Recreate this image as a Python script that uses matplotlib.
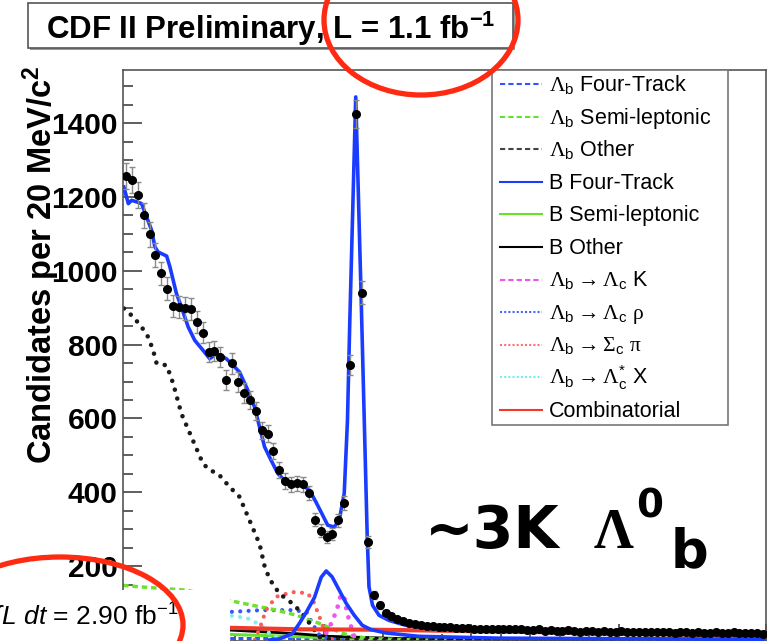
import numpy as np
import matplotlib
matplotlib.use("Agg")
import matplotlib.pyplot as plt
from matplotlib.lines import Line2D
from matplotlib.patches import Ellipse, Rectangle
from matplotlib.ticker import MultipleLocator, FuncFormatter

# ---------------------------------------------------------------- data
# Lambda_c pi invariant mass histogram: 20 MeV/c^2 bins starting at 4.82
bin_lo, bin_width = 4.82, 0.02
counts = [1256, 1245, 1205, 1151, 1099, 1042, 993, 952, 905, 902,
          898, 896, 862, 832, 780, 783, 767, 704, 749, 699,
          669, 650, 620, 568, 559, 512, 460, 431, 422, 424,
          422, 398, 326, 296, 279, 287, 324, 371, 746, 1426,
          941, 266, 121, 94, 72, 64, 56, 51, 45, 42,
          40, 39, 37, 36, 35, 34, 33, 33, 32, 31,
          31, 30, 30, 29, 30, 31, 30, 29, 28, 26,
          29, 25, 27, 24, 25, 26, 24, 23, 25, 24,
          23, 24, 22, 23, 25, 22, 23, 21, 22, 23,
          21, 22, 21, 20, 22, 21, 20, 21, 19, 20,
          21, 20, 19, 21, 20, 19, 18, 19, 17]

# total fit
fit_m = [4.823, 4.838, 4.849, 4.866, 4.883, 4.900, 4.917, 4.928, 4.939, 4.968,
         4.979, 5.001, 5.018, 5.041, 5.063, 5.091, 5.114, 5.137, 5.170, 5.187,
         5.215, 5.243, 5.266, 5.283, 5.300, 5.322, 5.345, 5.367, 5.401, 5.429,
         5.452, 5.474, 5.497, 5.514, 5.536, 5.553, 5.570, 5.581, 5.589, 5.609,
         5.627, 5.648, 5.654, 5.666, 5.688, 5.722, 5.778, 5.867, 5.981, 6.094,
         6.431, 6.769, 6.992]
fit_total = [1227, 1182, 1191, 1187, 1182, 1146, 1110, 1065, 1051, 1040,
             1011, 939, 902, 848, 812, 785, 762, 776, 762, 749,
             726, 677, 631, 577, 523, 487, 451, 433, 424, 419,
             406, 374, 338, 311, 306, 324, 397, 595, 866, 1471,
             940, 280, 144, 94, 67, 53, 40, 31, 28, 26,
             22, 16, 13]

# background components
lb_other_m = [4.823, 4.855, 4.883, 4.905, 4.922, 4.934, 4.968, 4.990, 5.018, 5.052,
              5.091, 5.114, 5.142, 5.181, 5.215, 5.249, 5.283, 5.300, 5.317, 5.350,
              5.394, 5.428, 5.462, 5.486, 5.519, 5.621, 6.992]
lb_other = [898, 875, 848, 821, 785, 749, 744, 695, 613, 550,
            478, 460, 451, 415, 388, 324, 260, 200, 165, 126,
            99, 72, 35, 8, 2, 0, 0]

lb_semi_m = [4.820, 4.877, 5.036, 5.181, 5.259, 5.340, 5.408, 5.452, 5.486, 5.524,
             5.564, 5.615, 5.682, 5.823, 6.992]
lb_semi = [148, 144, 135, 107, 94, 81, 67, 54, 45, 32, 18, 8, 3, 0, 0]

lb_4trk_m = [4.820, 5.600, 6.992]
lb_4trk = [4, 4, 3]

b_4trk_m = [5.317, 5.350, 5.394, 5.418, 5.442, 5.469, 5.492, 5.509, 5.529, 5.553,
            5.577, 5.604, 5.631, 5.661, 5.712, 5.823, 6.094, 6.992]
b_4trk = [0, 3, 17, 45, 76, 115, 170, 187, 171, 135, 99, 67, 40, 28, 19, 10, 5, 2]

b_semi_m = [4.820, 5.181, 5.384, 5.553, 5.756, 6.992]
b_semi = [18, 15, 10, 5, 2, 0]

b_other_m = [4.820, 5.181, 5.394, 5.519, 5.756, 6.094, 6.992]
b_other = [35, 27, 18, 10, 4, 1, 0]

lck_m = [5.486, 5.509, 5.529, 5.546, 5.559, 5.570, 5.580, 5.594, 5.604, 5.621]
lck = [2, 20, 49, 85, 124, 117, 72, 35, 9, 0]

lcrho_m = [4.820, 5.181, 5.293, 5.394, 5.442, 5.462, 5.486, 5.519, 5.587]
lcrho = [80, 76, 81, 81, 76, 45, 13, 2, 0]

scpi_m = [5.266, 5.283, 5.305, 5.339, 5.394, 5.418, 5.442, 5.462, 5.486, 5.502,
          5.519, 5.536]
scpi = [0, 30, 81, 117, 130, 128, 128, 112, 63, 27, 5, 0]

lcstar_m = [4.820, 5.181, 5.239, 5.283, 5.317, 5.350, 5.384]
lcstar = [80, 66, 60, 42, 18, 4, 0]

comb_m = [4.820, 5.181, 5.418, 5.654, 6.094, 6.431, 6.769, 6.992]
comb = [38, 33, 29, 28, 23, 19, 14, 11]

# ---------------------------------------------------------------- fonts
plt.rcParams.update({
    "font.family": ["Liberation Sans", "DejaVu Sans"],
    "mathtext.fontset": "custom",
    "mathtext.rm": "Liberation Sans",
    "mathtext.it": "Liberation Sans:italic",
    "mathtext.bf": "Liberation Sans:bold",
    "mathtext.sf": "Liberation Serif",
    "mathtext.fallback": "stixsans",
})

W, H = 776, 641
def fx(px):
    return px / W
def fy(py):
    return 1 - py / H

fig = plt.figure(figsize=(W / 100, H / 100), dpi=100)
ax = fig.add_axes([fx(123), 0, (766 - 123) / W, (641 - 70) / H])

# ---------------------------------------------------------------- plot
mass = bin_lo + bin_width * (np.arange(len(counts)) + 0.5)
y = np.array(counts, dtype=float)

dot = (0, (0.01, 2.0))
dash = (0, (1.6, 1.1))
ax.plot(lb_4trk_m, lb_4trk, color="#3355ff", lw=2.2, ls=dash, zorder=2)
ax.plot(b_semi_m, b_semi, color="#66e22a", lw=2.2, zorder=2)
ax.plot(b_other_m, b_other, color="black", lw=2.0, zorder=2)
ax.plot(comb_m, comb, color="#f03a2a", lw=3.0, zorder=3)
ax.plot(lcstar_m, lcstar, color="#7ff0f0", lw=3.0, ls=dot, dash_capstyle="round", zorder=2)
ax.plot(lcrho_m, lcrho, color="#3a55ff", lw=3.0, ls=dot, dash_capstyle="round", zorder=2)
ax.plot(lb_semi_m, lb_semi, color="#6fe030", lw=2.5, ls=dash, zorder=2)
ax.plot(scpi_m, scpi, color="#ff5a5a", lw=3.0, ls=dot, dash_capstyle="round", zorder=2)
ax.plot(lck_m, lck, color="#ee55ee", lw=3.4, ls=dot, dash_capstyle="round", zorder=2)
ax.plot(lb_other_m, lb_other, color="#1a1a1a", lw=3.3, ls=dot, dash_capstyle="round", zorder=2)
ax.plot(b_4trk_m, b_4trk, color="#1a3cff", lw=2.6, zorder=3)
ax.plot(fit_m, fit_total, color="#1a3cff", lw=2.6, zorder=4)

ax.errorbar(mass, y, yerr=np.sqrt(y), fmt="o", color="black", ms=5.5,
            ecolor="#8a8a8a", elinewidth=1.0, capsize=2.5, capthick=1.0, zorder=5)

ax.set_xlim(4.82, 7.0)
ax.set_ylim(-2.7, 1544)
ax.xaxis.set_major_locator(MultipleLocator(0.5))
ax.xaxis.set_minor_locator(MultipleLocator(0.1))
ax.yaxis.set_major_locator(MultipleLocator(200))
ax.yaxis.set_minor_locator(MultipleLocator(50))
ax.yaxis.set_major_formatter(FuncFormatter(lambda v, _: "" if v < 100 else f"{v:.0f}"))
ax.tick_params(which="both", direction="in", color="#333333", width=1.1,
               labelbottom=False, pad=4)
ax.tick_params(axis="y", which="major", length=14)
ax.tick_params(axis="y", which="minor", length=7)
ax.tick_params(axis="x", which="major", length=12)
ax.tick_params(axis="x", which="minor", length=5)
for lab in ax.get_yticklabels():
    lab.set_fontweight("bold")
    lab.set_fontsize(21.5)
for s in ax.spines.values():
    s.set_color("#555555")
    s.set_linewidth(1.2)

# axis title
fig.text(fx(41), fy(66), r"Candidates per 20 MeV/c$^{\mathbf{2}}$", rotation=90,
         ha="center", va="top", fontsize=23.5, fontweight="bold")

# ---------------------------------------------------------------- legend
fig.add_artist(Rectangle((fx(492), fy(425)), (728 - 492) / W, (425 - 70) / H,
                         transform=fig.transFigure, fc="white", ec="#777777",
                         lw=1.2, zorder=6))
legend_rows = [
    (r"$\mathsf{\Lambda}_{\mathrm{b}}$ Four-Track", "#3355ff", (0, (2.5, 1.5))),
    (r"$\mathsf{\Lambda}_{\mathrm{b}}$ Semi-leptonic", "#66e030", (0, (2.5, 1.5))),
    (r"$\mathsf{\Lambda}_{\mathrm{b}}$ Other", "#444444", (0, (2.5, 1.5))),
    ("B Four-Track", "#1a3cff", "-"),
    ("B Semi-leptonic", "#66e22a", "-"),
    ("B Other", "black", "-"),
    (r"$\mathsf{\Lambda}_{\mathrm{b}}\rightarrow\mathsf{\Lambda}_{\mathrm{c}}$ K", "#ee55ee", (0, (2.5, 1.5))),
    (r"$\mathsf{\Lambda}_{\mathrm{b}}\rightarrow\mathsf{\Lambda}_{\mathrm{c}}\ \mathsf{\rho}$", "#4466ff", (0, (1, 1))),
    (r"$\mathsf{\Lambda}_{\mathrm{b}}\rightarrow\mathsf{\Sigma}_{\mathrm{c}}\ \mathsf{\pi}$", "#ff7070", (0, (1, 1))),
    (r"$\mathsf{\Lambda}_{\mathrm{b}}\rightarrow\mathsf{\Lambda}_{\mathrm{c}}^{*}$ X", "#70f0f0", (0, (1, 1))),
    ("Combinatorial", "#f03a2a", "-"),
]
for i, (label, col, ls) in enumerate(legend_rows):
    yc = 84 + 32.6 * i
    fig.add_artist(Line2D([fx(500), fx(542)], [fy(yc), fy(yc)], transform=fig.transFigure,
                          color=col, lw=1.5, ls=ls, zorder=7))
    fig.text(fx(549), fy(yc + 7), label, fontsize=15.5, va="baseline", ha="left", zorder=7)

# ---------------------------------------------------------------- annotations
# white panel with integrated luminosity
fig.add_artist(Rectangle((0, 0), 230 / W, (641 - 590) / H, transform=fig.transFigure,
                         fc="white", ec="none", zorder=10))
fig.text(fx(179), fy(625), r"$\int L\ dt$ = 2.90 fb$^{-1}$", ha="right", va="baseline",
         fontsize=19, zorder=11)

# header box
fig.add_artist(Rectangle((fx(30), fy(50)), 485 / W, 45 / H, transform=fig.transFigure,
                         fc="#999999", ec="none", zorder=14))
fig.add_artist(Rectangle((fx(28), fy(48)), 485 / W, 45 / H, transform=fig.transFigure,
                         fc="white", ec="#555555", lw=1.2, zorder=15))
fig.text(fx(46), fy(39), r"CDF II Preliminary, L = 1.1 fb$^{\mathbf{-1}}$", ha="left",
         va="baseline", fontsize=22.5, fontweight="bold", zorder=16)

# red highlight rings
fig.add_artist(Ellipse((fx(421), fy(20)), 2 * 97 / W, 2 * 75 / H, transform=fig.transFigure,
                       fill=False, ec="#ff2a12", lw=3.8, zorder=20))
fig.add_artist(Ellipse((fx(60), fy(625)), 2 * 123 / W, 2 * 68 / H, transform=fig.transFigure,
                       fill=False, ec="#ff2a12", lw=3.8, zorder=20))

# yield
fig.text(fx(425), fy(548), "~3K", ha="left", va="baseline", fontsize=42,
         fontweight="bold", family="DejaVu Sans", zorder=21)
fig.text(fx(594), fy(548), "Λ", ha="left", va="baseline", fontsize=40,
         fontweight="bold", family="Liberation Serif", zorder=21)
fig.text(fx(636), fy(518), "0", ha="left", va="baseline", fontsize=28,
         fontweight="bold", family="DejaVu Sans", zorder=21)
fig.text(fx(671), fy(567), "b", ha="left", va="baseline", fontsize=38,
         fontweight="bold", family="DejaVu Sans", zorder=21)

fig.savefig("out.png", dpi=100)
